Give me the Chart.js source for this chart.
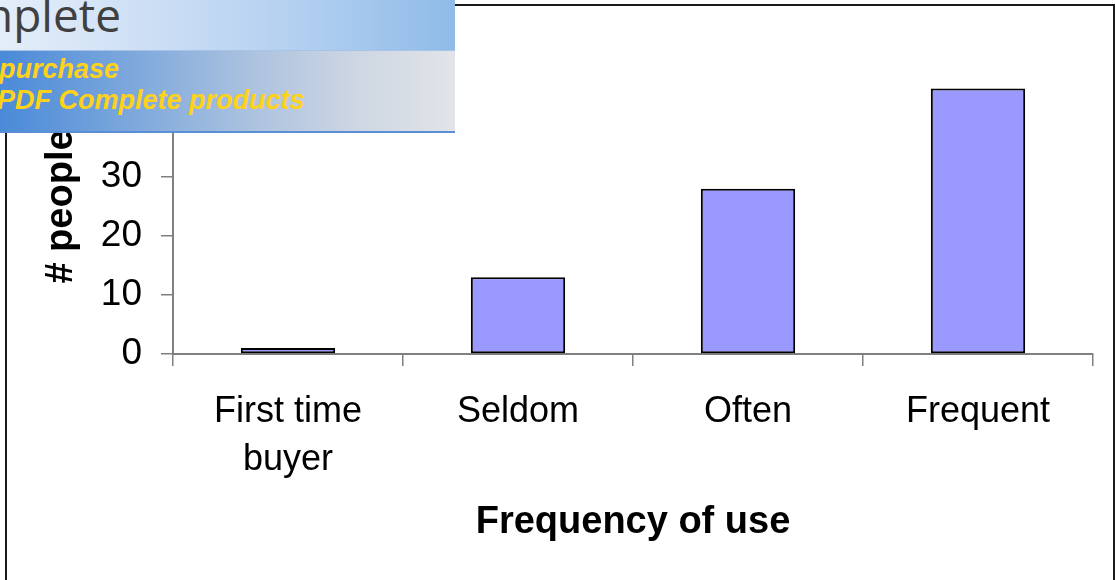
<!DOCTYPE html>
<html>
<head>
<meta charset="utf-8">
<script src="https://cdn.jsdelivr.net/npm/chart.js@4/dist/chart.umd.min.js"></script>
<style>
  html, body { margin: 0; padding: 0; background: #ffffff; }
  #wrap { position: relative; width: 1115px; height: 580px; overflow: hidden; }
  #chart { position: absolute; left: 0; top: 0; }
  #banner {
    position: absolute; left: 0; top: 0; width: 455px; height: 133px;
    overflow: hidden; z-index: 2;
  }
  #banner .upper {
    position: absolute; left: 0; top: 0; width: 455px; height: 50px;
    background: linear-gradient(to right, #e4eef9 0%, #cfe0f5 30%, #b3d0f0 65%, #8fbbe8 100%);
  }
  #banner .lower {
    position: absolute; left: 0; top: 50px; width: 455px; height: 81px;
    background: linear-gradient(to right, #4a8ad8 0%, #7fa9dc 30%, #abc2df 55%, #cdd6e3 78%, #e2e4e8 100%);
    border-top: 1px solid #a7c4e8;
  }
  #banner .rule {
    position: absolute; left: 0; top: 131px; width: 455px; height: 2px; background: #5a8fd6;
  }
  #banner .brand {
    position: absolute; right: 334px; top: -9px;
    font-family: "Open Sans", "Liberation Sans", sans-serif; font-size: 46px;
    color: #404040; white-space: nowrap; line-height: 1;
  }
  #banner .note {
    position: absolute; font-family: "Liberation Sans", Arial, sans-serif;
    font-weight: bold; font-style: italic; font-size: 27px; color: #ffd21a;
    white-space: nowrap; line-height: 1;
  }
</style>
</head>
<body>
<div id="wrap">
  <canvas id="chart" width="1115" height="580"></canvas>
  <div id="banner">
    <div class="upper"><span class="brand">Complete</span></div>
    <div class="lower"></div>
    <div class="rule"></div>
    <span class="note" style="left:-1px; top:56px;">purchase</span>
    <span class="note" style="left:-3px; top:87px;">PDF Complete products</span>
  </div>
</div>
<script>
// Survey results: number of people by how often they use the product
const categories = [['First time', 'buyer'], 'Seldom', 'Often', 'Frequent'];
const people = [1, 13, 28, 45];
const yMin = 0;
const yMax = 50;
const yStep = 10;
const xTitle = 'Frequency of use';
const yTitle = '# people';

const FONT = '"Liberation Sans", Arial, sans-serif';
const AXIS_GREY = '#808080';

// Thin dark frame around the whole chart
const framePlugin = {
  id: 'frame',
  afterDraw(chart) {
    const ctx = chart.ctx;
    ctx.save();
    ctx.strokeStyle = '#1a1a1a';
    ctx.lineWidth = 2;
    ctx.strokeRect(6, 5, 1108, 700);
    ctx.restore();
  }
};

new Chart(document.getElementById('chart'), {
  type: 'bar',
  data: {
    labels: categories,
    datasets: [{
      data: people,
      backgroundColor: '#9999ff',
      borderColor: '#000000',
      borderWidth: 2,
      borderSkipped: false,
      categoryPercentage: 1.0,
      barPercentage: 0.41
    }]
  },
  options: {
    responsive: false,
    animation: false,
    events: [],
    layout: { padding: { top: 59, right: 22, left: 0, bottom: 0 } },
    plugins: {
      legend: { display: false },
      tooltip: { enabled: false }
    },
    scales: {
      x: {
        type: 'category',
        offset: true,
        afterFit(scale) { scale.height = 226; },
        grid: {
          offset: true,
          drawOnChartArea: false,
          drawTicks: true,
          tickLength: 12,
          color: AXIS_GREY,
          lineWidth: 1.5
        },
        border: { display: true, color: AXIS_GREY, width: 2 },
        ticks: {
          color: '#000000',
          font: { family: FONT, size: 36, lineHeight: 1.33 },
          padding: 22,
          maxRotation: 0,
          minRotation: 0,
          autoSkip: false
        },
        title: {
          display: true,
          text: xTitle,
          color: '#000000',
          font: { family: FONT, size: 38, weight: 'bold', lineHeight: 1.2 },
          padding: { top: 0, bottom: 35 }
        }
      },
      y: {
        min: yMin,
        max: yMax,
        afterFit(scale) { scale.width = 173; },
        grid: {
          drawOnChartArea: false,
          drawTicks: true,
          tickLength: 12,
          color: AXIS_GREY,
          lineWidth: 1.5
        },
        border: { display: true, color: AXIS_GREY, width: 2 },
        ticks: {
          stepSize: yStep,
          color: '#000000',
          font: { family: FONT, size: 37 },
          padding: 19
        },
        title: {
          display: true,
          text: yTitle,
          color: '#000000',
          font: { family: FONT, size: 38, weight: 'bold', lineHeight: 1.2 },
          padding: { top: 39, bottom: 0 }
        }
      }
    }
  },
  plugins: [framePlugin]
});
</script>
</body>
</html>
